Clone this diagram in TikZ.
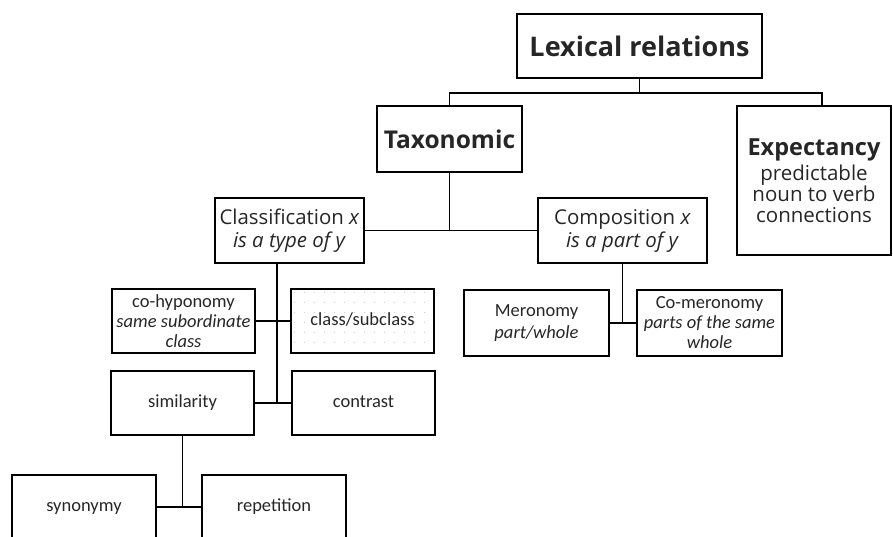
\documentclass[tikz,border=0pt]{standalone}
\usepackage{fontspec}
\setmainfont{Open Sans}
\newfontfamily\smallfont{Carlito}
\usetikzlibrary{calc,patterns.meta}

\definecolor{dotgreen}{HTML}{C4D6BC}

\tikzdeclarepattern{
  name=sparsedots,
  type=uncolored,
  bounding box={(0pt,0pt) and (10pt,10pt)},
  tile size={(10pt,10pt)},
  code={\pgfpathcircle{\pgfpoint{5pt}{5pt}}{0.7pt}\pgfusepath{fill}}
}

\tikzset{
  box/.style={draw=black, line width=1.5pt, rectangle, inner sep=0pt,
    align=center, text=black!85},
  bigbox/.style={box, font=\bfseries},
  midbox/.style={box, font=\fontsize{20.4}{23}\selectfont},
  leafbox/.style={box, font=\smallfont\fontsize{18.5}{20}\selectfont},
  link/.style={draw=black, line width=1.5pt}
}

\begin{document}
\begin{tikzpicture}[x=1pt, y=-1pt]
  \useasboundingbox (0,0) rectangle (893,536);
  \clip (0,0) rectangle (893,536);

  % top level
  \node[bigbox, minimum width=245pt, minimum height=64pt] (lex) at (639.5,46)
    {\fontsize{27}{30}\selectfont Lexical relations};
  \node[bigbox, minimum width=145pt, minimum height=66pt] (tax) at (449.5,139)
    {\fontsize{24.5}{28}\selectfont Taxonomic};
  \node[box, minimum width=154pt, minimum height=149pt,
        font=\fontsize{20.5}{21}\selectfont] (exp) at (814,180.5)
    {{\bfseries\fontsize{23.5}{26}\selectfont Expectancy}\\[3pt]predictable\\noun to verb\\connections};

  % second level
  \node[midbox, minimum width=149pt, minimum height=65pt] (cls) at (289.5,230.5)
    {Classification \textit{x}\\\textit{is a type of y}};
  \node[midbox, minimum width=169pt, minimum height=65pt] (cmp) at (622.5,230.5)
    {Composition \textit{x}\\\textit{is a part of y}};

  % classification branch
  \node[leafbox, minimum width=143pt, minimum height=64pt] (cohyp) at (183.5,321)
    {co-hyponomy\\\textit{same subordinate}\\\textit{class}};
  \node[leafbox, minimum width=143pt, minimum height=64pt,
        pattern=sparsedots, pattern color=dotgreen] (sub) at (362.5,321)
    {\strut class/subclass};
  \node[leafbox, minimum width=143pt, minimum height=64pt] (sim) at (182.5,403)
    {\strut similarity};
  \node[leafbox, minimum width=143pt, minimum height=64pt] (con) at (363.5,403)
    {\strut contrast};
  \node[leafbox, minimum width=144pt, minimum height=64pt] (syn) at (84,507)
    {\strut synonymy};
  \node[leafbox, minimum width=144pt, minimum height=64pt] (rep) at (274,507)
    {\strut repetition};

  % composition branch
  \node[leafbox, minimum width=145pt, minimum height=66pt] (mer) at (536.5,323)
    {Meronomy\\[2pt]\textit{part/whole}};
  \node[leafbox, minimum width=145pt, minimum height=66pt] (comer) at (709.5,323)
    {Co-meronomy\\\textit{parts of the same}\\\textit{whole}};

  % connectors
  \coordinate (lexfork) at ($(lex.south)+(0,14)$);
  \draw[link] (lex.south) -- (lexfork);
  \draw[link] (lexfork) -| (tax.north);
  \draw[link] (lexfork) -| ($(exp.north)+(8,0)$);

  \draw[link] (tax.south) -- (tax.south |- cls.east);
  \draw[link] (cls.east) -- (cmp.west);

  \coordinate (clstrunk) at ($(cls.south)+(-12.5,0)$);
  \draw[link] (clstrunk) -- (clstrunk |- sim.east);
  \draw[link] (cohyp.east) -- (sub.west);
  \draw[link] (sim.east) -- (con.west);

  \draw[link] (sim.south) -- (sim.south |- syn.east);
  \draw[link] (syn.east) -- (rep.west);

  \draw[link] (cmp.south) -- (cmp.south |- mer.east);
  \draw[link] (mer.east) -- (comer.west);
\end{tikzpicture}
\end{document}
